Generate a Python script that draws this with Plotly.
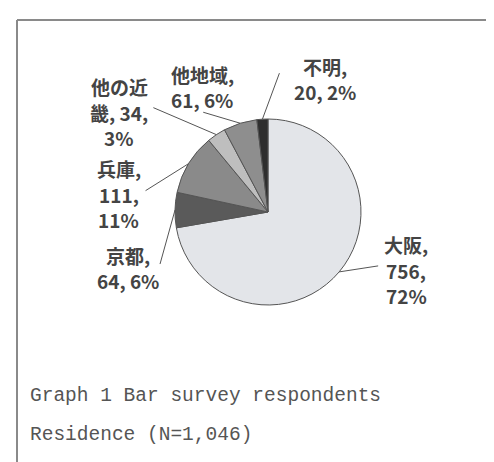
import math
import plotly.graph_objects as go

regions = ["大阪", "京都", "兵庫", "他の近畿", "他地域", "不明"]
counts = [756, 64, 111, 34, 61, 20]
label_lines = [["{n},", "{v},", "{p}%"], ["{n},", "{v}, {p}%"], ["{n},", "{v},", "{p}%"],
               ["他の近", "畿, {v},", "{p}%"], ["{n},", "{v}, {p}%"], ["{n},", "{v}, {p}%"]]
colors = ["#e3e5e9", "#5a5a5a", "#8a8a8a", "#bebebe", "#8e8e8e", "#2e2e2e"]
# first text line centre and leader end, offsets from the slice edge point in pixels
text_off = [(67, -27), (-47, 45), (-70, 5), (-97, -48), (-38, -49), (63, -53)]
lead_off = [(39, -6), (-15, 54), (-43, 27), (-63, -27), (-37, -11), (17, -46)]

W, H = 494, 462
cx, cy, r = 260, 204, 93
line_h = 25.5

fig = go.Figure(go.Pie(
    labels=regions, values=counts, sort=False, direction="clockwise", rotation=0,
    marker=dict(colors=colors, line=dict(color="#555555", width=1)),
    textinfo="none", hoverinfo="label+value+percent", showlegend=False,
    domain=dict(x=[(cx - r) / W, (cx + r) / W], y=[1 - (cy + r) / H, 1 - (cy - r) / H]),
))

total = sum(counts)
cum = 0
for name, v, lines, (tx, ty), (lx, ly) in zip(regions, counts, label_lines, text_off, lead_off):
    mid = (cum + v / 2) / total * 2 * math.pi
    cum += v
    px = cx + r * math.sin(mid)
    py = cy - r * math.cos(mid)
    fig.add_shape(type="line", xref="paper", yref="paper",
                  x0=px / W, y0=1 - py / H, x1=(px + lx) / W, y1=1 - (py + ly) / H,
                  line=dict(color="#555555", width=1))
    for i, ln in enumerate(lines):
        txt = ln.format(n=name, v=v, p=round(v / total * 100))
        fig.add_annotation(x=(px + tx) / W, y=1 - (py + ty + i * line_h) / H,
                           xref="paper", yref="paper", text="<b>" + txt + "</b>",
                           showarrow=False, xanchor="center", yanchor="middle",
                           font=dict(family="Noto Sans CJK JP", size=19, color="#444444"))

fig.add_annotation(x=20 / W, y=1 - 401 / H, xref="paper", yref="paper", xanchor="left",
                   text="Graph 1 Bar survey respondents", showarrow=False,
                   font=dict(family="Liberation Mono", size=19.5, color="#555555"))
fig.add_annotation(x=20 / W, y=1 - 440 / H, xref="paper", yref="paper", xanchor="left",
                   text="Residence (N=1,046)", showarrow=False,
                   font=dict(family="Liberation Mono", size=19.5, color="#555555"))

# frame lines
fig.add_shape(type="line", xref="paper", yref="paper", x0=9 / W, x1=1, y0=1 - 12 / H, y1=1 - 12 / H,
              line=dict(color="#8a8a8a", width=2))
fig.add_shape(type="line", xref="paper", yref="paper", x0=9 / W, x1=9 / W, y0=0, y1=1 - 12 / H,
              line=dict(color="#8a8a8a", width=2))

fig.update_layout(width=W, height=H, margin=dict(l=0, r=0, t=0, b=0),
                  paper_bgcolor="white", plot_bgcolor="white")
fig.write_html("out.html")
